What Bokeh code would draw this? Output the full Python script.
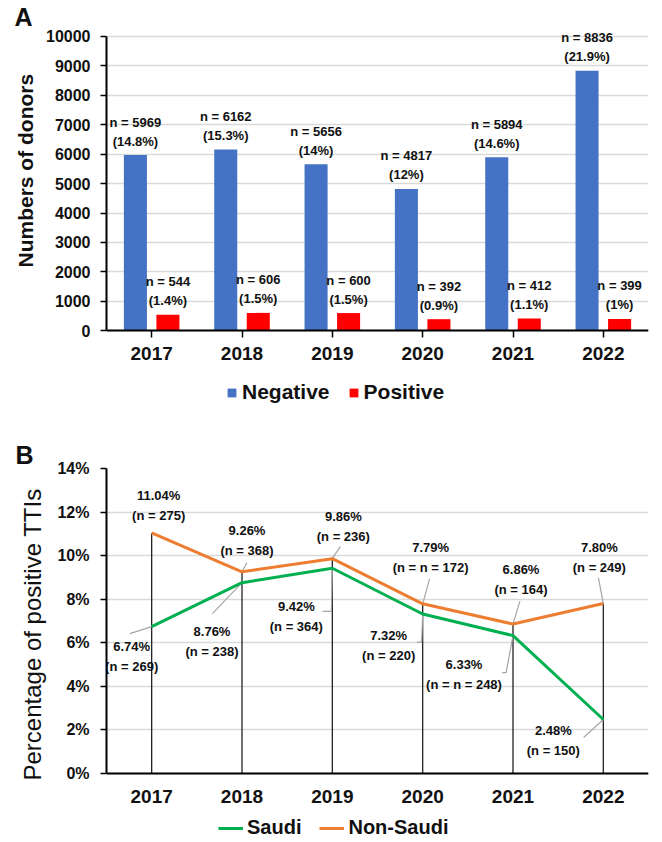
from bokeh.plotting import figure
from bokeh.models import (FactorRange, Range1d, FixedTicker, Legend, LegendItem, Title,
                          PrintfTickFormatter, ColumnDataSource)
from bokeh.transform import dodge
from bokeh.layouts import column
from bokeh.core.properties import value
from bokeh.embed import file_html
from bokeh.resources import INLINE

# ---------------- data ----------------
years = ["2017", "2018", "2019", "2020", "2021", "2022"]
negative = [5969, 6162, 5656, 4817, 5894, 8836]
negative_pct = ["14.8%", "15.3%", "14%", "12%", "14.6%", "21.9%"]
positive = [544, 606, 600, 392, 412, 399]
positive_pct = ["1.4%", "1.5%", "1.5%", "0.9%", "1.1%", "1%"]
a_ticks = [0, 1000, 2000, 3000, 4000, 5000, 6000, 7000, 8000, 9000, 10000]

saudi = [6.74, 8.76, 9.42, 7.32, 6.33, 2.48]
saudi_n = ["n = 269", "n = 238", "n = 364", "n = 220", "n = n = 248", "n = 150"]
non_saudi = [11.04, 9.26, 9.86, 7.79, 6.86, 7.80]
non_saudi_n = ["n = 275", "n = 368", "n = 236", "n = n = 172", "n = 164", "n = 249"]
b_ticks = [0, 2, 4, 6, 8, 10, 12, 14]

# ---------------- styles ----------------
BLUE, RED = "#4472C4", "#FF0000"
GREEN, ORANGE = "#00B050", "#ED7D31"
GRID = "#D9D9D9"
SANS = "Liberation Sans"
LBL_SIZE = "13px"
INK = "#111111"

# label offsets (screen px from the data point: centre of first line)
ns_dx = [7, 5, 11, 8, 8, -4]
ns_dy = [-37, -41, -42, -56, -55, -56]
s_dx = [-20, -30, -36, -34, -49, -50]
s_dy = [20, 49, 38, 21, 29, 11]
LINE_GAP = 20
# leader lines: (dx, dy) screen-px offsets from the point, ending at the point
ns_lead = [None, [(5, -9), (0, 0)], [(8, -12), (0, 0)], [(7, -25), (0, 0)],
           [(7, -23), (0, 0)], [(-5, -26), (0, 0)]]
s_lead = [[(-22, 7), (0, 0)], [(-30, 31), (0, 0)], [(-10, 43), (-1, 43), (0, 0)],
          [(-6, 28), (-1, 28), (0, 0)], [(-11, 37), (-7, 37), (0, 0)], [(-20, 18), (0, 0)]]


def style_axes(p):
    for ax in (p.xaxis[0], p.yaxis[0]):
        ax.axis_line_color = "black"
        ax.axis_line_width = 2
        ax.major_tick_line_color = "black"
        ax.major_tick_line_width = 1.5
        ax.major_tick_in = 0
        ax.minor_tick_in = 0
        ax.minor_tick_out = 0
        ax.major_label_text_font = SANS
        ax.major_label_text_font_style = "bold"
        ax.major_label_text_color = INK
    p.yaxis.major_tick_out = 6
    p.yaxis.major_label_text_font_size = "16px"
    p.xaxis.major_label_text_font_size = "19px"
    p.xaxis.fixed_location = 0
    p.xgrid.visible = False
    p.ygrid.grid_line_color = GRID
    p.ygrid.grid_line_width = 1.5
    p.outline_line_color = None


def style_title(p, offset):
    p.title.align = "left"
    p.title.offset = offset
    p.title.standoff = 0
    p.title.text_font = SANS
    p.title.text_font_size = "25px"
    p.title.text_font_style = "bold"
    p.title.text_color = INK


# ================= Panel A =================
# frame: top at 29 px, bottom at 420 px; value 0 at 330 px, 10000 at 35 px
pA = figure(title="A", x_range=FactorRange(*years), y_range=Range1d(-3051, 10203),
            width=662, height=420, output_backend="svg", toolbar_location=None,
            min_border_left=105, min_border_right=14, min_border_top=29, min_border_bottom=0)
style_title(pA, -92)

srcA = ColumnDataSource(dict(
    year=years, neg=negative, pos=positive,
    neg_n=[f"n = {v}" for v in negative], neg_p=[f"({p})" for p in negative_pct],
    pos_n=[f"n = {v}" for v in positive], pos_p=[f"({p})" for p in positive_pct]))

r_neg = pA.vbar(x=dodge("year", -0.18, range=pA.x_range), top="neg", width=0.255,
                source=srcA, fill_color=BLUE, line_color=None)
r_pos = pA.vbar(x=dodge("year", 0.18, range=pA.x_range), top="pos", width=0.255,
                source=srcA, fill_color=RED, line_color=None)

for off, ycol, c1, c2 in [(-0.18, "neg", "neg_n", "neg_p"), (0.18, "pos", "pos_n", "pos_p")]:
    for col, dy in ((c1, -33), (c2, -14)):
        pA.text(x=dodge("year", off, range=pA.x_range), y=ycol, text=col, source=srcA,
                y_offset=dy, text_align="center", text_baseline="middle",
                text_font=value(SANS), text_font_size=LBL_SIZE, text_font_style="bold",
                text_color=INK)

style_axes(pA)
pA.yaxis.ticker = FixedTicker(ticks=a_ticks)
pA.yaxis.bounds = (0, 10000)
pA.yaxis.major_label_standoff = 10
pA.xaxis.major_tick_out = 7
pA.xaxis.major_label_standoff = 9
pA.add_layout(Title(text="Numbers of donors", align="left", offset=153, standoff=13,
                    text_font=SANS, text_font_size="21px", text_font_style="bold",
                    text_color=INK), "left")

legA = Legend(items=[LegendItem(label="Negative", renderers=[r_neg]),
                     LegendItem(label="Positive", renderers=[r_pos])],
              orientation="horizontal", location=(120, 16),
              glyph_width=11, glyph_height=11, label_standoff=5, spacing=18,
              padding=0, margin=0, background_fill_alpha=0, border_line_color=None,
              label_text_font=SANS, label_text_font_size="21px", label_text_font_style="bold",
              label_text_color=INK)
pA.add_layout(legA, "center")

# ================= Panel B =================
# frame: top at 48 px, bottom at 422 px; 0 % at 353 px, 14 % at 48 px
xs = list(range(len(years)))
pB = figure(title="B", x_range=Range1d(-0.5, 5.5), y_range=Range1d(-3.167, 14),
            width=662, height=422, output_backend="svg", toolbar_location=None,
            min_border_left=106, min_border_right=7, min_border_top=48, min_border_bottom=0)
style_title(pB, -91)

PX_X = (662 - 106 - 7) / 6.0
PX_Y = 305 / 14.0

drop_top = [max(a, b) for a, b in zip(saudi, non_saudi)]
pB.segment(x0=xs, y0=[0] * 6, x1=xs, y1=drop_top, line_color="#222222", line_width=1.3)

lx, ly = [], []
for series, leads in ((non_saudi, ns_lead), (saudi, s_lead)):
    for i, (v, lead) in enumerate(zip(series, leads)):
        if lead is None:
            continue
        lx.append([i + d[0] / PX_X for d in lead])
        ly.append([v - d[1] / PX_Y for d in lead])
pB.multi_line(xs=lx, ys=ly, line_color="#A6A6A6", line_width=1.2)

r_s = pB.line(xs, saudi, line_color=GREEN, line_width=3)
r_ns = pB.line(xs, non_saudi, line_color=ORANGE, line_width=3)

srcB = ColumnDataSource(dict(
    x=xs, s=saudi, ns=non_saudi,
    s_p=[f"{v:.2f}%" for v in saudi], s_n=[f"({t})" for t in saudi_n],
    ns_p=[f"{v:.2f}%" for v in non_saudi], ns_n=[f"({t})" for t in non_saudi_n],
    s_dx=s_dx, s_dy1=s_dy, s_dy2=[d + LINE_GAP for d in s_dy],
    ns_dx=ns_dx, ns_dy1=ns_dy, ns_dy2=[d + LINE_GAP for d in ns_dy]))

for ycol, tcol, dx, dy in [("ns", "ns_p", "ns_dx", "ns_dy1"), ("ns", "ns_n", "ns_dx", "ns_dy2"),
                           ("s", "s_p", "s_dx", "s_dy1"), ("s", "s_n", "s_dx", "s_dy2")]:
    pB.text(x="x", y=ycol, text=tcol, x_offset=dx, y_offset=dy, source=srcB,
            text_align="center", text_baseline="middle",
            text_font=value(SANS), text_font_size=LBL_SIZE, text_font_style="bold",
            text_color=INK)

style_axes(pB)
pB.yaxis.ticker = FixedTicker(ticks=b_ticks)
pB.yaxis.bounds = (0, 14)
pB.yaxis.formatter = PrintfTickFormatter(format="%d%%")
pB.yaxis.major_label_standoff = 11
pB.xaxis.ticker = FixedTicker(ticks=xs)
pB.xaxis.major_label_overrides = {i: y for i, y in enumerate(years)}
pB.xaxis.major_tick_out = 0
pB.xaxis.major_label_standoff = 16
pB.add_layout(Title(text="Percentage of positive TTIs", align="left", offset=62, standoff=18,
                    text_font=SANS, text_font_size="24px", text_font_style="normal",
                    text_color=INK), "left")

legB = Legend(items=[LegendItem(label="Saudi", renderers=[r_s]),
                     LegendItem(label="Non-Saudi", renderers=[r_ns])],
              orientation="horizontal", location=(112, 3),
              glyph_width=25, glyph_height=14, label_standoff=4, spacing=18,
              padding=0, margin=0, background_fill_alpha=0, border_line_color=None,
              label_text_font=SANS, label_text_font_size="20px", label_text_font_style="bold",
              label_text_color=INK)
pB.add_layout(legB, "center")

layout = column(pA, pB, spacing=0)
open("out.html", "w").write(file_html(layout, INLINE))
